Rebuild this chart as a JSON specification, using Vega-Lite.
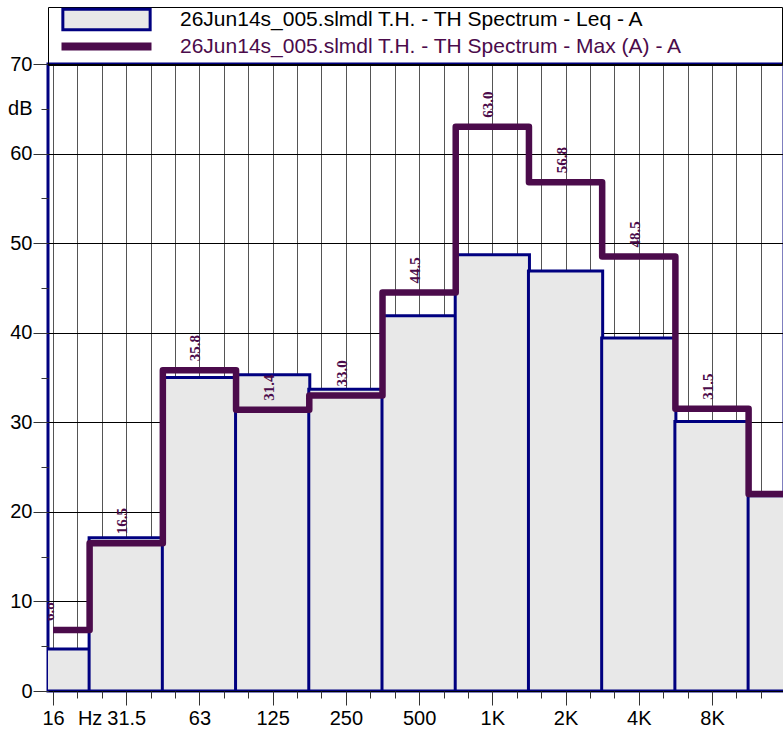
{
  "$schema": "https://vega.github.io/schema/vega-lite/v6.json",
  "width": 736,
  "height": 627,
  "autosize": {"type": "none"},
  "padding": {"left": 48, "top": 64, "right": 0, "bottom": 40},
  "background": "white",
  "config": {
    "view": {"stroke": "#000080", "strokeWidth": 3},
    "font": "Liberation Sans"
  },
  "data": {
    "values": [
      {"band": "16", "idx": 0, "leq": 4.7, "max": 6.8},
      {"band": "31.5", "idx": 1, "leq": 17.1, "max": 16.5},
      {"band": "63", "idx": 2, "leq": 35.0, "max": 35.8},
      {"band": "125", "idx": 3, "leq": 35.3, "max": 31.4},
      {"band": "250", "idx": 4, "leq": 33.7, "max": 33.0},
      {"band": "500", "idx": 5, "leq": 41.9, "max": 44.5},
      {"band": "1K", "idx": 6, "leq": 48.7, "max": 63.0},
      {"band": "2K", "idx": 7, "leq": 46.9, "max": 56.8},
      {"band": "4K", "idx": 8, "leq": 39.4, "max": 48.5},
      {"band": "8K", "idx": 9, "leq": 30.1, "max": 31.5},
      {"band": "16K", "idx": 10, "leq": 21.8, "max": 22.0}
    ]
  },
  "encoding": {
    "x": {
      "field": "idx",
      "type": "quantitative",
      "scale": {"domain": [0, 9.915], "nice": false, "zero": false},
      "axis": {
        "title": null,
        "domain": false,
        "values": [0, 0.3333, 0.6667, 1, 1.3333, 1.6667, 2, 2.3333, 2.6667, 3, 3.3333, 3.6667, 4, 4.3333, 4.6667, 5, 5.3333, 5.6667, 6, 6.3333, 6.6667, 7, 7.3333, 7.6667, 8, 8.3333, 8.6667, 9, 9.3333, 9.6667],
        "labelExpr": "abs(datum.value - round(datum.value)) < 0.01 ? ['16','31.5','63','125','250','500','1K','2K','4K','8K','16K'][round(datum.value)] : (abs(datum.value - 0.3333) < 0.01 ? 'Hz' : '')",
        "labelAlign": {"condition": {"test": "abs(datum.value - 0.3333) < 0.01", "value": "left"}, "value": "center"},
        "labelPadding": {"condition": {"test": "abs(datum.value - round(datum.value)) > 0.01", "value": 10}, "value": 3},
        "labelOverlap": false,
        "labelFlush": false,
        "labelBound": false,
        "labelFont": "Liberation Sans",
        "labelFontSize": 20,
        "labelColor": "black",
        "labelBaseline": "top",
        "grid": true,
        "gridColor": "#555555",
        "gridWidth": 1,
        "tickColor": "#333333",
        "tickSize": {"condition": {"test": "abs(datum.value - round(datum.value)) > 0.01", "value": 7}, "value": 14}
      }
    }
  },
  "layer": [
    {
      "mark": {"type": "bar", "width": 74.23, "fill": "#e8e8e8", "strokeWidth": 3, "clip": true},
      "encoding": {
        "y": {
          "field": "leq",
          "type": "quantitative",
          "scale": {"domain": [0, 70], "nice": false},
          "axis": {
            "title": null,
            "domain": false,
            "values": [0, 5, 10, 15, 20, 25, 30, 35, 40, 45, 50, 55, 60, 65, 70],
            "labelExpr": "datum.value == 65 ? 'dB' : (datum.value % 10 == 0 ? datum.label : '')",
            "labelFont": "Liberation Sans",
            "labelFontSize": 20,
            "labelColor": "black",
            "labelPadding": {"condition": {"test": "datum.value % 10 != 0", "value": 9}, "value": 1},
            "labelBaseline": "middle",
            "grid": true,
            "gridColor": "black",
            "gridOpacity": {"condition": {"test": "datum.value % 10 != 0", "value": 0}, "value": 1},
            "tickColor": "#333333",
            "tickSize": {"condition": {"test": "datum.value % 10 != 0", "value": 7}, "value": 15}
          }
        },
        "stroke": {
          "datum": "26Jun14s_005.slmdl T.H. - TH Spectrum - Leq - A",
          "type": "nominal",
          "scale": {
            "domain": ["26Jun14s_005.slmdl T.H. - TH Spectrum - Leq - A", "26Jun14s_005.slmdl T.H. - TH Spectrum - Max (A) - A"],
            "range": ["#000080", "#4b0b4b"]
          },
          "legend": {
            "title": null,
            "orient": "none",
            "legendX": 0,
            "legendY": -57,
            "strokeColor": "black",
            "padding": 2,
            "symbolType": {"expr": "datum.index == 0 ? 'M-0.97,-0.23H0.97V0.23H-0.97Z' : 'stroke'"},
            "symbolSize": 8100,
            "symbolStrokeWidth": {"expr": "datum.index == 0 ? 3 : 8"},
            "symbolFillColor": {"expr": "datum.index == 0 ? '#e8e8e8' : 'transparent'"},
            "symbolOffset": 46,
            "labelColor": {"expr": "datum.index == 0 ? 'black' : '#4b0b4b'"},
            "labelFont": "Liberation Sans",
            "labelFontSize": 21,
            "labelLimit": 2000,
            "labelOffset": 63,
            "rowPadding": -8,
            "labelExpr": "datum.label + '\u00a0\u00a0\u00a0\u00a0\u00a0\u00a0\u00a0\u00a0\u00a0\u00a0\u00a0\u00a0\u00a0\u00a0\u2800'"
          }
        }
      }
    },
    {
      "mark": {"type": "line", "interpolate": "step", "strokeWidth": 6.5, "strokeJoin": "round", "clip": true},
      "encoding": {
        "y": {"field": "max", "type": "quantitative"},
        "stroke": {"datum": "26Jun14s_005.slmdl T.H. - TH Spectrum - Max (A) - A", "type": "nominal"}
      }
    },
    {
      "transform": [{"filter": "datum.idx < 10"}],
      "mark": {"type": "text", "angle": 270, "align": "left", "baseline": "middle", "dx": 9, "dy": -4, "font": "Liberation Serif", "fontWeight": "bold", "fontSize": 15, "fill": "#4b0b4b", "clip": true},
      "encoding": {
        "y": {"field": "max", "type": "quantitative"},
        "text": {"field": "max", "type": "quantitative", "format": ".1f"}
      }
    }
  ]
}
